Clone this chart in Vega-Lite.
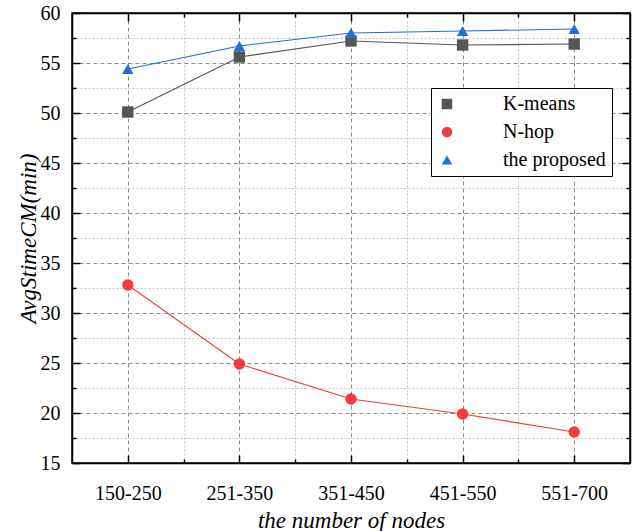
{
  "$schema": "https://vega.github.io/schema/vega-lite/v6.json",
  "width": 558,
  "height": 450,
  "autosize": {"type": "none"},
  "padding": {"left": 72, "top": 13, "right": 6, "bottom": 68},
  "background": "white",
  "config": {
    "font": "Liberation Serif",
    "view": {"stroke": "black", "strokeWidth": 1.5}
  },
  "data": {
    "values": [
      {"nodes": "150-250", "idx": 1, "series": "K-means", "value": 50.1},
      {"nodes": "251-350", "idx": 2, "series": "K-means", "value": 55.6},
      {"nodes": "351-450", "idx": 3, "series": "K-means", "value": 57.2},
      {"nodes": "451-550", "idx": 4, "series": "K-means", "value": 56.8},
      {"nodes": "551-700", "idx": 5, "series": "K-means", "value": 56.9},
      {"nodes": "150-250", "idx": 1, "series": "N-hop", "value": 32.8},
      {"nodes": "251-350", "idx": 2, "series": "N-hop", "value": 24.9},
      {"nodes": "351-450", "idx": 3, "series": "N-hop", "value": 21.4},
      {"nodes": "451-550", "idx": 4, "series": "N-hop", "value": 19.9},
      {"nodes": "551-700", "idx": 5, "series": "N-hop", "value": 18.1},
      {"nodes": "150-250", "idx": 1, "series": "the proposed", "value": 54.4},
      {"nodes": "251-350", "idx": 2, "series": "the proposed", "value": 56.7},
      {"nodes": "351-450", "idx": 3, "series": "the proposed", "value": 58.0},
      {"nodes": "451-550", "idx": 4, "series": "the proposed", "value": 58.2},
      {"nodes": "551-700", "idx": 5, "series": "the proposed", "value": 58.4}
    ]
  },
  "layer": [
    {
      "mark": {"type": "line", "strokeWidth": 1.1},
      "encoding": {
        "x": {
          "field": "idx", "type": "quantitative",
          "scale": {"domain": [0.5, 5.5], "nice": false, "zero": false},
          "axis": {
            "orient": "bottom",
            "values": [1, 1.5, 2, 2.5, 3, 3.5, 4, 4.5, 5],
            "labelExpr": "datum.value == 1 ? '150-250' : datum.value == 2 ? '251-350' : datum.value == 3 ? '351-450' : datum.value == 4 ? '451-550' : datum.value == 5 ? '551-700' : ''",
            "grid": true,
            "gridColor": {"condition": {"test": "datum.value % 1 === 0", "value": "#8a8a8a"}, "value": "#c4c4c4"},
            "gridDash": {"condition": {"test": "datum.value % 1 === 0", "value": [4, 3]}, "value": [2, 2]},
            "gridWidth": 1,
            "tickSize": -8,
            "tickDash": {"condition": {"test": "datum.value % 1 === 0", "value": [10, 0]}, "value": [4, 20]},
            "tickColor": "black", "tickWidth": 1.5,
            "domainColor": "black", "domainWidth": 1.5,
            "labelFontSize": 20, "labelColor": "black", "labelPadding": 28,
            "labelFlush": false, "labelOverlap": false,
            "title": "the number of nodes", "titleFontStyle": "italic", "titleFontWeight": "normal",
            "titleFontSize": 23, "titleColor": "black", "titlePadding": 6
          }
        },
        "y": {
          "field": "value", "type": "quantitative",
          "scale": {"domain": [15, 60], "nice": false, "zero": false},
          "axis": {
            "orient": "left",
            "values": [15, 17.5, 20, 22.5, 25, 27.5, 30, 32.5, 35, 37.5, 40, 42.5, 45, 47.5, 50, 52.5, 55, 57.5, 60],
            "labelExpr": "datum.value % 5 === 0 ? datum.label : ''",
            "grid": true,
            "gridColor": {"condition": {"test": "datum.value % 5 === 0", "value": "#8a8a8a"}, "value": "#c4c4c4"},
            "gridDash": {"condition": {"test": "datum.value % 5 === 0", "value": [4, 3]}, "value": [2, 2]},
            "gridWidth": 1,
            "tickSize": -8,
            "tickDash": {"condition": {"test": "datum.value % 5 === 0", "value": [10, 0]}, "value": [4, 20]},
            "tickColor": "black", "tickWidth": 1.5,
            "domainColor": "black", "domainWidth": 1.5,
            "labelFontSize": 20, "labelColor": "black", "labelPadding": 20,
            "labelFlush": false, "labelOverlap": false,
            "title": "AvgStimeCM(min)", "titleFontStyle": "italic", "titleFontWeight": "normal",
            "titleFontSize": 23, "titleColor": "black", "titlePadding": 0
          }
        },
        "color": {
          "field": "series", "type": "nominal",
          "scale": {"domain": ["K-means", "N-hop", "the proposed"], "range": ["#555555", "#f03c3c", "#1f6fde"]},
          "legend": {
            "orient": "none", "legendX": 359, "legendY": 75,
            "title": null,
            "strokeColor": "black", "fillColor": "white",
            "padding": 6,
            "symbolSize": 110,
            "symbolStrokeWidth": 0,
            "labelFontSize": 20, "labelColor": "black", "labelOffset": 46,
            "rowPadding": 8
          }
        }
      }
    },
    {
      "mark": {"type": "point", "filled": true, "opacity": 1, "size": 130},
      "encoding": {
        "x": {"field": "idx", "type": "quantitative", "axis": null},
        "y": {"field": "value", "type": "quantitative", "axis": null},
        "color": {"field": "series", "type": "nominal"},
        "shape": {
          "field": "series", "type": "nominal",
          "scale": {"domain": ["K-means", "N-hop", "the proposed"], "range": ["square", "circle", "triangle-up"]},
          "legend": null
        }
      }
    },
    {
      "mark": {"type": "point", "opacity": 0},
      "encoding": {
        "x": {
          "field": "idx", "type": "quantitative",
          "axis": {
            "orient": "top", "values": [1, 1.5, 2, 2.5, 3, 3.5, 4, 4.5, 5],
            "labels": false, "grid": false, "title": null,
            "tickSize": -8,
            "tickDash": {"condition": {"test": "datum.value % 1 === 0", "value": [10, 0]}, "value": [4, 20]},
            "tickColor": "black", "tickWidth": 1.5, "domainColor": "black", "domainWidth": 1.5
          }
        },
        "y": {
          "field": "value", "type": "quantitative",
          "axis": {
            "orient": "right",
            "values": [15, 17.5, 20, 22.5, 25, 27.5, 30, 32.5, 35, 37.5, 40, 42.5, 45, 47.5, 50, 52.5, 55, 57.5, 60],
            "labels": false, "grid": false, "title": null,
            "tickSize": -8,
            "tickDash": {"condition": {"test": "datum.value % 5 === 0", "value": [10, 0]}, "value": [4, 20]},
            "tickColor": "black", "tickWidth": 1.5, "domainColor": "black", "domainWidth": 1.5
          }
        }
      }
    }
  ],
  "resolve": {"axis": {"x": "independent", "y": "independent"}}
}
